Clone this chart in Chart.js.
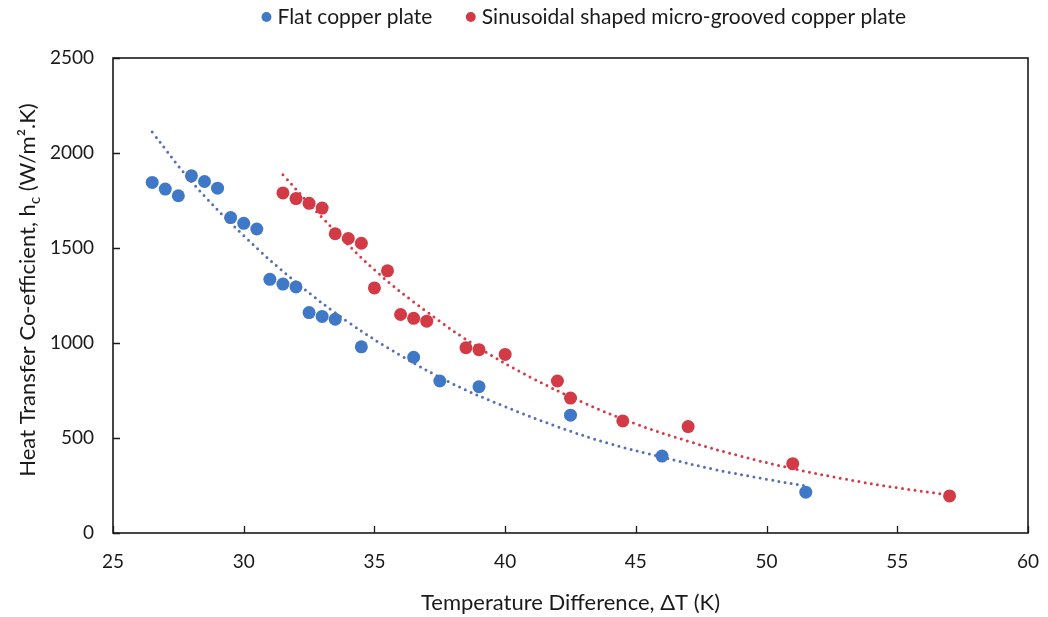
<!DOCTYPE html>
<html>
<head>
<meta charset="utf-8">
<script src="https://cdn.jsdelivr.net/npm/chart.js@4.4.1/dist/chart.umd.min.js"></script>
<style>
  html, body { margin: 0; padding: 0; background: #ffffff; }
  #wrap { width: 1048px; height: 617px; }
</style>
</head>
<body>
<div id="wrap"><canvas id="c" width="1048" height="617"></canvas></div>
<script>
// ---- Data ----
const flatDT = [26.5, 27, 27.5, 28, 28.5, 29, 29.5, 30, 30.5, 31, 31.5, 32, 32.5, 33, 33.5, 34.5, 36.5, 37.5, 39, 42.5, 46, 51.5];
const flatH  = [1845, 1810, 1775, 1880, 1850, 1815, 1660, 1630, 1600, 1335, 1310, 1295, 1160, 1140, 1125, 980, 925, 800, 770, 620, 405, 215];

const sinDT = [31.5, 32, 32.5, 33, 33.5, 34, 34.5, 35, 35.5, 36, 36.5, 37, 38.5, 39, 40, 42, 42.5, 44.5, 47, 51, 57];
const sinH  = [1790, 1760, 1735, 1710, 1575, 1550, 1525, 1290, 1380, 1150, 1130, 1115, 975, 965, 940, 800, 710, 590, 560, 365, 195];

// trend lines (dotted)
const flatTrendDT = [26.5, 28, 30, 32, 34, 36, 38, 40, 42, 44, 46, 48, 50, 51.5];
const flatTrendH  = [2110, 1850, 1565, 1320, 1110, 935, 785, 665, 560, 470, 400, 335, 283, 248];

const sinTrendDT = [31.5, 33, 35, 37, 39, 41, 43, 45, 47, 49, 51, 53, 55, 57];
const sinTrendH  = [1885, 1660, 1385, 1165, 975, 818, 686, 574, 483, 405, 339, 284, 238, 200];

const xTicks = [25, 30, 35, 40, 45, 50, 55, 60];
const yTicks = [0, 500, 1000, 1500, 2000, 2500];

const seriesNames = ['Flat copper plate', 'Sinusoidal shaped micro-grooved copper plate'];
const xTitle = 'Temperature Difference, \u0394T (K)';
const yTitleParts = ['Heat Transfer Co-efficient, h', 'c', ' (W/m\u00B2.K)'];

// ---- styles ----
const FONT = 'Lato, "Open Sans", "DejaVu Sans", sans-serif';
const BLUE = '#3f78c7';
const RED = '#d23a45';
const BLUE_TREND = '#5670b3';
const RED_TREND = '#d83a48';
const LEGEND_PAD = 38;

const toXY = (xs, ys) => xs.map((x, i) => ({ x: x, y: ys[i] }));

const layoutPlugin = {
  id: 'legendPlacement',
  beforeLayout(chart) {
    const lg = chart.legend;
    if (lg && !lg._patched) {
      const f = lg.fit.bind(lg);
      lg.fit = function () { f(); this.height = 58; };
      lg._patched = true;
    }
  },
  afterLayout(chart) {
    const lg = chart.legend;
    if (!lg) return;
    lg.left = 124;
    lg.right = 1048;
    lg.top = 17 - 10.5 - LEGEND_PAD;
  }
};

const framePlugin = {
  id: 'frameAndTicks',
  afterDatasetsDraw(chart) {
    const { ctx, chartArea: a, scales } = chart;
    ctx.save();
    ctx.strokeStyle = '#1a1a1a';
    ctx.lineWidth = 1.6;
    ctx.strokeRect(a.left, a.top, a.right - a.left, a.bottom - a.top);
    ctx.lineWidth = 1.3;
    ctx.beginPath();
    xTicks.forEach(v => {
      const px = Math.round(scales.x.getPixelForValue(v)) + 0.5;
      ctx.moveTo(px, a.bottom);
      ctx.lineTo(px, a.bottom - 7);
    });
    yTicks.forEach(v => {
      const py = Math.round(scales.y.getPixelForValue(v)) + 0.5;
      ctx.moveTo(a.left, py);
      ctx.lineTo(a.left + 7, py);
    });
    ctx.stroke();
    ctx.restore();
  },
  afterDraw(chart) {
    // rotated y-axis title with subscript "c"
    const { ctx } = chart;
    const big = '22px ' + FONT;
    const small = '15px ' + FONT;
    ctx.save();
    ctx.fillStyle = '#1a1a1a';
    ctx.textBaseline = 'alphabetic';
    ctx.font = big;
    const w0 = ctx.measureText(yTitleParts[0]).width;
    const w2 = ctx.measureText(yTitleParts[2]).width;
    ctx.font = small;
    const w1 = ctx.measureText(yTitleParts[1]).width;
    const total = w0 + w1 + w2;
    const cy = 290;
    ctx.translate(35, cy);
    ctx.rotate(-Math.PI / 2);
    let x = -total / 2;
    ctx.font = big;
    ctx.fillText(yTitleParts[0], x, 0);
    x += w0;
    ctx.font = small;
    ctx.fillText(yTitleParts[1], x, 5);
    x += w1;
    ctx.font = big;
    ctx.fillText(yTitleParts[2], x, 0);
    ctx.restore();
  }
};

new Chart(document.getElementById('c'), {
  type: 'scatter',
  data: {
    datasets: [
      {
        label: seriesNames[0],
        data: toXY(flatDT, flatH),
        backgroundColor: BLUE,
        borderColor: BLUE,
        pointRadius: 6.5,
        pointBorderWidth: 0,
        order: 1
      },
      {
        label: seriesNames[1],
        data: toXY(sinDT, sinH),
        backgroundColor: RED,
        borderColor: RED,
        pointRadius: 6.5,
        pointBorderWidth: 0,
        order: 1
      },
      {
        label: 'trend1',
        data: toXY(flatTrendDT, flatTrendH),
        showLine: true,
        borderColor: BLUE_TREND,
        borderWidth: 3,
        borderDash: [0, 6.3],
        borderCapStyle: 'round',
        tension: 0.4,
        pointRadius: 0,
        fill: false,
        order: 0
      },
      {
        label: 'trend2',
        data: toXY(sinTrendDT, sinTrendH),
        showLine: true,
        borderColor: RED_TREND,
        borderWidth: 3,
        borderDash: [0, 6.3],
        borderCapStyle: 'round',
        tension: 0.4,
        pointRadius: 0,
        fill: false,
        order: 0
      }
    ]
  },
  options: {
    responsive: false,
    animation: false,
    devicePixelRatio: 1,
    layout: { padding: { left: 0, right: 20, top: 0, bottom: 0 } },
    plugins: {
      tooltip: { enabled: false },
      legend: {
        position: 'top',
        align: 'center',
        labels: {
          filter: (item) => item.datasetIndex < 2,
          usePointStyle: true,
          pointStyle: 'circle',
          boxWidth: 1,
          boxHeight: 7,
          padding: LEGEND_PAD,
          color: '#1a1a1a',
          font: { family: FONT, size: 21 }
        }
      }
    },
    scales: {
      x: {
        type: 'linear',
        min: 25,
        max: 60,
        afterFit: (s) => { s.height = 84; s.paddingLeft = 0; s.paddingRight = 0; },
        afterBuildTicks: (s) => { s.ticks = xTicks.map(v => ({ value: v })); },
        grid: { display: false, drawTicks: false },
        border: { display: false },
        ticks: {
          padding: 17,
          color: '#1a1a1a',
          font: { family: FONT, size: 19 },
          maxRotation: 0,
          callback: (v) => String(v)
        },
        title: {
          display: true,
          text: xTitle,
          color: '#1a1a1a',
          font: { family: FONT, size: 22 },
          padding: { top: 4, bottom: 1 }
        }
      },
      y: {
        type: 'linear',
        min: 0,
        max: 2500,
        afterFit: (s) => { s.width = 113; s.paddingTop = 0; s.paddingBottom = 0; },
        afterBuildTicks: (s) => { s.ticks = yTicks.map(v => ({ value: v })); },
        grid: { display: false, drawTicks: false },
        border: { display: false },
        ticks: {
          padding: 19,
          color: '#1a1a1a',
          font: { family: FONT, size: 19 },
          callback: (v) => String(v)
        }
      }
    }
  },
  plugins: [layoutPlugin, framePlugin]
});
</script>
</body>
</html>
